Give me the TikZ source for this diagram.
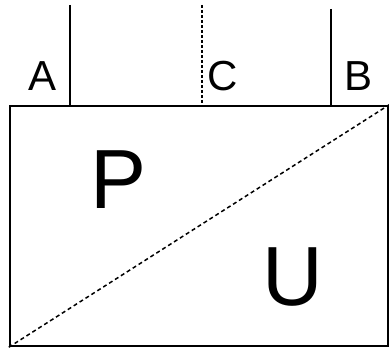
\documentclass[tikz,border=0pt]{standalone}
\usepackage{fontspec}
\setmainfont{Liberation Sans}
\usetikzlibrary{positioning, calc}

\begin{document}
\begin{tikzpicture}[
    x=1pt, y=-1pt,
    frame/.style={rectangle, draw=black, line width=2.5pt, minimum width=378pt, minimum height=240pt, inner sep=0pt},
    side/.style={font=\fontsize{42}{42}\selectfont, inner sep=0pt},
    zone/.style={font=\fontsize{84}{84}\selectfont, inner sep=0pt},
    pole/.style={draw=black, line width=1.4pt},
    split/.style={draw=black, line width=1.5pt, dash pattern=on 4pt off 3pt}
]
    \useasboundingbox (0,0) rectangle (389,352);
    \node (box) [frame] at (199,226) {};

    % labels
    \node (a) [side] at (43,76) {A};
    \node (c) [side] at (223,76) {C};
    \node (b) [side] at (359,76) {B};
    \node (p) [zone] at (119,180) {P};
    \node (u) [zone] at (293,277) {U};

    % poles
    \coordinate (atop) at (70,5);
    \coordinate (ctop) at (202,5);
    \coordinate (btop) at (331,9);
    \draw [pole] (atop) -- (atop |- box.north);
    \draw [pole, densely dashed] (ctop) -- (ctop |- box.north);
    \draw [pole] (btop) -- (btop |- box.north);

    \draw [split] (box.south west) -- (box.north east);
\end{tikzpicture}
\end{document}
